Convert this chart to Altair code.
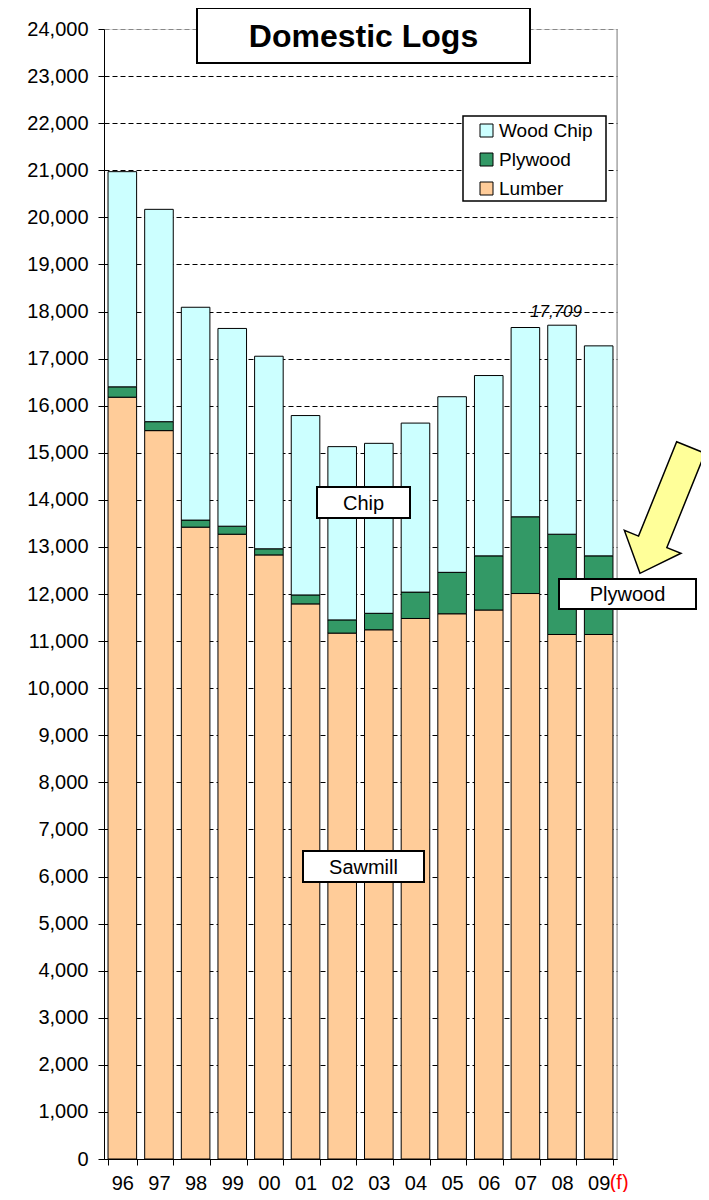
import altair as alt
import pandas as pd

# ---- data ----
years = ["96", "97", "98", "99", "00", "01", "02", "03", "04", "05", "06", "07", "08", "09"]
lumber = [16180, 15470, 13420, 13270, 12830, 11790, 11170, 11240, 11480, 11580, 11660, 12010, 11140, 11140]
plywood = [220, 190, 150, 170, 130, 190, 280, 350, 560, 880, 1150, 1630, 2130, 1670]
wood_chip = [4570, 4510, 4520, 4200, 4090, 3810, 3680, 3610, 3590, 3730, 3830, 4020, 4439, 4460]
series_names = ["Wood Chip", "Plywood", "Lumber"]
series_colors = ["#CCFFFF", "#339966", "#FFCC99"]
y_ticks = list(range(0, 24001, 1000))
value_label = {"year": "08", "y": 18000, "text": "17,709"}
forecast_label = {"year": "09", "text": "(f)"}
title_text = "Domestic Logs"

# ---- layout (pixels, relative to plot area) ----
W, H = 513, 1130
PAD = {"left": 96, "top": 21, "right": 84, "bottom": 33}
boxes = [
    # label, x, x2, y, y2, fontsize, bold, strokeWidth
    (title_text, 93, 426, -21, 34, 32, "bold", 2),
    ("Chip", 213, 306, 458, 489, 20, "normal", 2),
    ("Sawmill", 199, 320, 822, 853, 20, "normal", 2),
    ("Plywood", 455, 592, 550, 580, 20, "normal", 2),
    ("", 359, 502, 87, 172, 19, "normal", 1.5),  # legend frame
]
arrow_path = "M -0.225 -1 L 0.225 -1 L 0.225 0.5 L 0.45 0.5 L 0 1 L -0.45 0.5 L -0.225 0.5 Z"

rows = []
for i, y in enumerate(years):
    rows.append({"year": y, "series": "Lumber", "value": lumber[i], "ord": 0})
    rows.append({"year": y, "series": "Plywood", "value": plywood[i], "ord": 1})
    rows.append({"year": y, "series": "Wood Chip", "value": wood_chip[i], "ord": 2})
df = pd.DataFrame(rows)

FONT = "Liberation Sans"

xscale = alt.Scale(domain=years, paddingInner=0.22, paddingOuter=0.11)
yscale = alt.Scale(domain=[0, 24000], nice=False, zero=True)

bars = alt.Chart(df).mark_bar(stroke="black", strokeWidth=1, opacity=1).encode(
    x=alt.X("year:N", sort=years, scale=xscale,
            axis=alt.Axis(title=None, labelAngle=0, tickBand="extent", tickSize=6,
                          tickColor="black", domainColor="black", labelFontSize=20,
                          labelFont=FONT, labelColor="black", labelPadding=8, grid=False)),
    y=alt.Y("value:Q", stack="zero", scale=yscale,
            axis=alt.Axis(title=None, values=y_ticks, format=",.0f", tickSize=6,
                          tickColor="black", domainColor="black", labelFontSize=20,
                          labelFont=FONT, labelColor="black", labelPadding=10,
                          grid=True, gridDash=[5, 3],
                          gridColor=alt.condition("datum.value == 24000", alt.value("#888888"), alt.value("black")))),
    color=alt.Color("series:N", scale=alt.Scale(domain=series_names, range=series_colors),
                    legend=alt.Legend(orient="none", legendX=373, legendY=92, title=None,
                                      symbolType="square", symbolSize=169,
                                      symbolStrokeColor="black", symbolStrokeWidth=1,
                                      labelFontSize=19, labelFont=FONT, labelColor="black",
                                      labelOffset=3, rowPadding=9, padding=0)),
    order=alt.Order("ord:Q"),
)

label = alt.Chart(pd.DataFrame([value_label])).mark_text(
    fontStyle="italic", fontSize=17, font=FONT, dx=-6, baseline="middle", color="black"
).encode(x=alt.X("year:N", sort=years, scale=xscale), y=alt.Y("y:Q", scale=yscale), text="text:N")

flabel = alt.Chart(pd.DataFrame([forecast_label])).mark_text(
    fontSize=20, font=FONT, dx=11, align="left", baseline="top", color="#FF0000"
).encode(x=alt.X("year:N", sort=years, scale=xscale), y=alt.value(H + 14), text="text:N")

right_border = alt.Chart(pd.DataFrame({"a": [0]})).mark_rule(color="#888888", strokeWidth=1).encode(
    x=alt.value(W), y=alt.value(0), y2=alt.value(H))

layers = [bars, right_border, label, flabel]
for (txt, x1, x2, y1, y2, fs, fw, sw) in boxes:
    d = pd.DataFrame({"t": [txt]})
    layers.append(alt.Chart(d).mark_rect(fill="white", stroke="black", strokeWidth=sw).encode(
        x=alt.value(x1), x2=alt.value(x2), y=alt.value(y1), y2=alt.value(y2)))
    if txt:
        layers.append(alt.Chart(d).mark_text(fontSize=fs, fontWeight=fw, font=FONT, color="black",
                                             align="center", baseline="middle").encode(
            x=alt.value((x1 + x2) / 2), y=alt.value((y1 + y2) / 2 + 1), text="t:N"))

arrow = alt.Chart(pd.DataFrame({"a": [0]})).mark_point(
    shape=arrow_path, filled=True, fill="#FFFF99", stroke="black", strokeWidth=1.5,
    size=18414, angle=22, opacity=1
).encode(x=alt.value(561.4), y=alt.value(481.4))
layers.append(arrow)

chart = alt.layer(*layers).properties(
    width=W, height=H,
    autosize=alt.AutoSizeParams(type="none"),
    padding=PAD,
).configure_view(stroke=None).configure(font=FONT)

chart.save("out.html", embed_options={"renderer": "svg", "actions": False})
